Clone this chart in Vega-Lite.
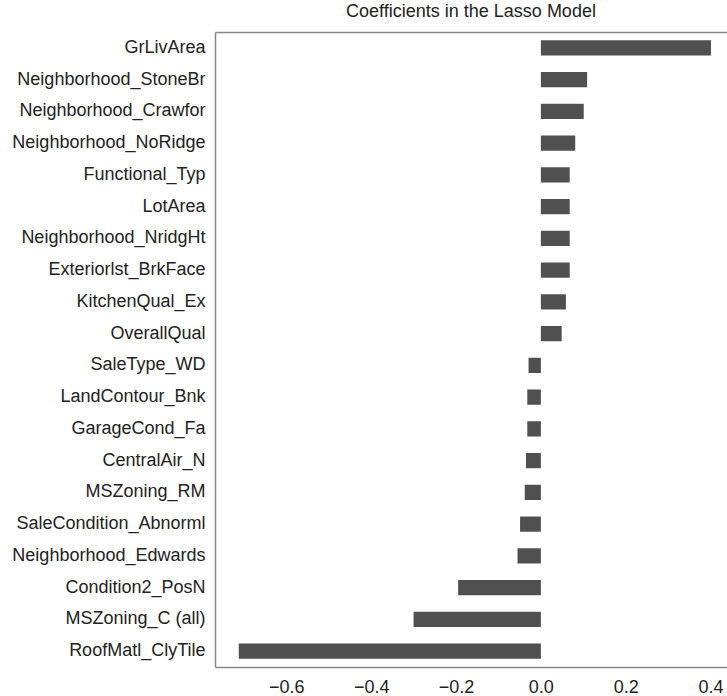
{
  "$schema": "https://vega.github.io/schema/vega-lite/v6.json",
  "autosize": {"type": "none"},
  "padding": {"left": 215, "top": 32, "right": 0, "bottom": 29},
  "width": 512,
  "height": 635,
  "title": {"text": "Coefficients in the Lasso Model", "font": "Liberation Sans", "fontSize": 18, "fontWeight": "normal", "color": "#222", "anchor": "middle", "offset": 11},
  "data": {"values": [
    {"feature": "GrLivArea", "coef": 0.401},
    {"feature": "Neighborhood_StoneBr", "coef": 0.109},
    {"feature": "Neighborhood_Crawfor", "coef": 0.101},
    {"feature": "Neighborhood_NoRidge", "coef": 0.081},
    {"feature": "Functional_Typ", "coef": 0.068},
    {"feature": "LotArea", "coef": 0.068},
    {"feature": "Neighborhood_NridgHt", "coef": 0.068},
    {"feature": "Exteriorlst_BrkFace", "coef": 0.068},
    {"feature": "KitchenQual_Ex", "coef": 0.059},
    {"feature": "OverallQual", "coef": 0.049},
    {"feature": "SaleType_WD", "coef": -0.029},
    {"feature": "LandContour_Bnk", "coef": -0.032},
    {"feature": "GarageCond_Fa", "coef": -0.032},
    {"feature": "CentralAir_N", "coef": -0.035},
    {"feature": "MSZoning_RM", "coef": -0.038},
    {"feature": "SaleCondition_Abnorml", "coef": -0.049},
    {"feature": "Neighborhood_Edwards", "coef": -0.055},
    {"feature": "Condition2_PosN", "coef": -0.195},
    {"feature": "MSZoning_C (all)", "coef": -0.300},
    {"feature": "RoofMatl_ClyTile", "coef": -0.712}
  ]},
  "encoding": {
    "y": {"field": "feature", "type": "nominal", "sort": null,
      "scale": {"paddingInner": 0.52, "paddingOuter": 0.26},
      "axis": {"title": null, "ticks": false, "labelPadding": 10, "labelLimit": 400, "labelFont": "Liberation Sans", "labelFontSize": 18, "labelColor": "#222", "domain": true, "domainColor": "#888", "domainWidth": 1.5, "grid": false}},
    "x": {"field": "coef", "type": "quantitative",
      "scale": {"domain": [-0.768, 0.4387], "nice": false, "zero": false}}
  },
  "layer": [
    {
      "mark": {"type": "bar", "color": "#505050"},
      "encoding": {
        "x": {"field": "coef", "type": "quantitative",
          "axis": {"title": null, "orient": "bottom", "values": [-0.6, -0.4, -0.2, 0, 0.2, 0.4], "format": ".1f", "ticks": false, "labelPadding": 11, "labelFont": "Liberation Sans", "labelFontSize": 18, "labelColor": "#222", "domainColor": "#888", "domainWidth": 1.5, "grid": false, "labelFlush": false}}
      }
    },
    {
      "mark": {"type": "bar", "opacity": 0},
      "encoding": {
        "x": {"field": "coef", "type": "quantitative",
          "axis": {"title": null, "orient": "top", "labels": false, "ticks": false, "grid": false, "domainColor": "#888", "domainWidth": 1.5}}
      }
    }
  ],
  "resolve": {"axis": {"x": "independent"}},
  "config": {"view": {"stroke": null}}
}
